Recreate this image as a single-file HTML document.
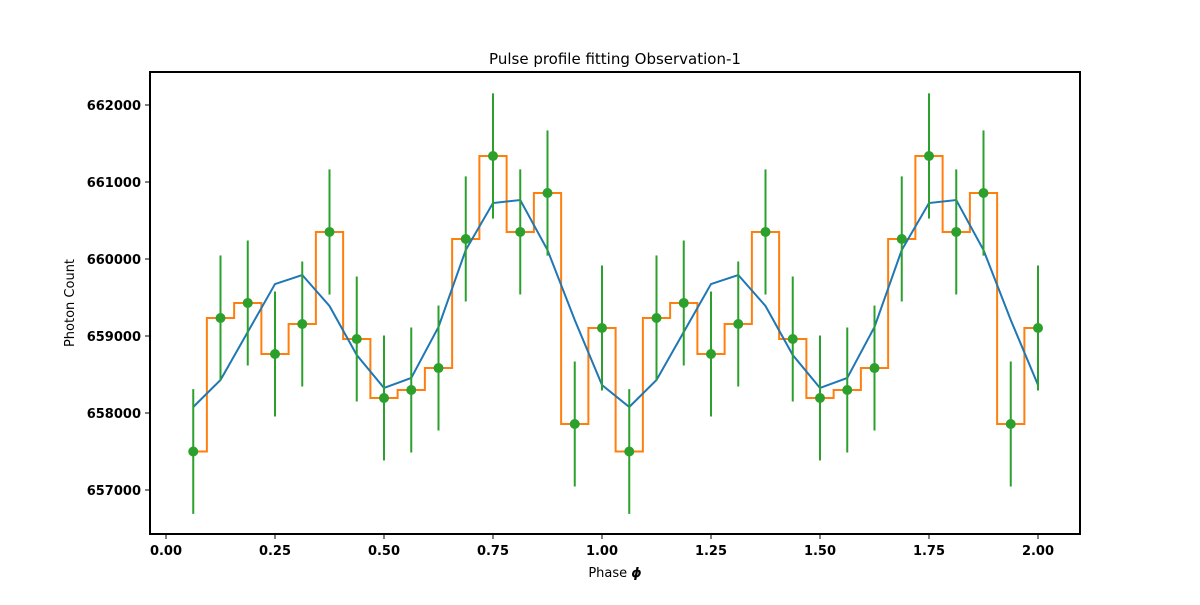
<!DOCTYPE html>
<html><head><meta charset="utf-8"><style>
body{margin:0;background:#fff;font-family:"Liberation Sans","DejaVu Sans",sans-serif}
svg text{font-family:"DejaVu Sans","Liberation Sans",sans-serif}
</style></head><body>
<svg id="chart" width="1200" height="600" xmlns="http://www.w3.org/2000/svg">
<rect width="1200" height="600" fill="#fff"/>
<text x="615" y="64" text-anchor="middle" font-size="15">Pulse profile fitting Observation-1</text>
<g id="marks"></g>
<rect x="150" y="72" width="930" height="462" fill="none" stroke="#000" stroke-width="2"/>
<g id="xt"></g><g id="yt"></g>
<text x="615" y="577" text-anchor="middle" font-size="13">Phase <tspan font-weight="bold" font-style="italic">ϕ</tspan></text>
<text transform="translate(74,303) rotate(-90)" text-anchor="middle" font-size="13">Photon Count</text>
</svg>
<script>
const phases=[0.0625,0.125,0.1875,0.25,0.3125,0.375,0.4375,0.5,0.5625,0.625,0.6875,0.75,0.8125,0.875,0.9375,1.0,1.0625,1.125,1.1875,1.25,1.3125,1.375,1.4375,1.5,1.5625,1.625,1.6875,1.75,1.8125,1.875,1.9375,2.0];
const counts=[657500,659234,659429,658766,659156,660351,658961,658195,658299,658584,660260,661338,660351,660857,657857,659104,657500,659234,659429,658766,659156,660351,658961,658195,658299,658584,660260,661338,660351,660857,657857,659104];
const model=[658078,658429,659052,659675,659792,659390,658753,658325,658455,659117,660117,660727,660766,660117,659208,658364,658078,658429,659052,659675,659792,659390,658753,658325,658455,659117,660117,660727,660766,660117,659208,658364];
const xTicks=[0,0.25,0.5,0.75,1.0,1.25,1.5,1.75,2.0];
const xTickLabels=["0.00","0.25","0.50","0.75","1.00","1.25","1.50","1.75","2.00"];
const yTicks=[657000,658000,659000,660000,661000,662000];
const NS="http://www.w3.org/2000/svg";
const X=v=>166+v*436;
const Y=v=>490-(v-657000)*0.077;
function mk(t,a,p){const e=document.createElementNS(NS,t);for(const k in a)e.setAttribute(k,a[k]);p.appendChild(e);return e;}
const m=document.getElementById('marks');
// step (mid)
let d="M"+X(phases[0])+","+Y(counts[0]);
for(let i=0;i<phases.length;i++){
 const l=i==0?phases[0]:(phases[i-1]+phases[i])/2;
 const r=i==phases.length-1?phases[i]:(phases[i]+phases[i+1])/2;
 d+=" L"+X(l)+","+Y(counts[i])+" L"+X(r)+","+Y(counts[i]);
}
const st=mk('path',{d:d,fill:"none",stroke:"#ff7f0e","stroke-width":2},m);


const ml=mk('polyline',{points:phases.map((p,i)=>X(p)+","+Y(model[i])).join(" "),fill:"none",stroke:"#1f77b4","stroke-width":2},m);


phases.forEach((p,i)=>{
 const e=Math.sqrt(counts[i]);
 const el=mk('line',{x1:X(p),x2:X(p),y1:Y(counts[i]-e),y2:Y(counts[i]+e),stroke:"#2ca02c","stroke-width":2},m);
 
 
 const c=mk('circle',{cx:X(p),cy:Y(counts[i]),r:5,fill:"#2ca02c"},m);
 
 
});
const xt=document.getElementById('xt');
xTicks.forEach((v,i)=>{
 mk('line',{x1:X(v),x2:X(v),y1:534,y2:539,stroke:"#000"},xt);
 const t=mk('text',{x:X(v),y:555,"text-anchor":"middle","font-size":13,"font-weight":"bold"},xt);
 t.textContent=xTickLabels[i];
 
 
});
const yt=document.getElementById('yt');
yTicks.forEach(v=>{
 mk('line',{x1:145,x2:150,y1:Y(v),y2:Y(v),stroke:"#000"},yt);
 const t=mk('text',{x:141,y:Y(v)+5,"text-anchor":"end","font-size":13,"font-weight":"bold"},yt);
 t.textContent=String(v);
 
 
});
</script>
</body></html>
